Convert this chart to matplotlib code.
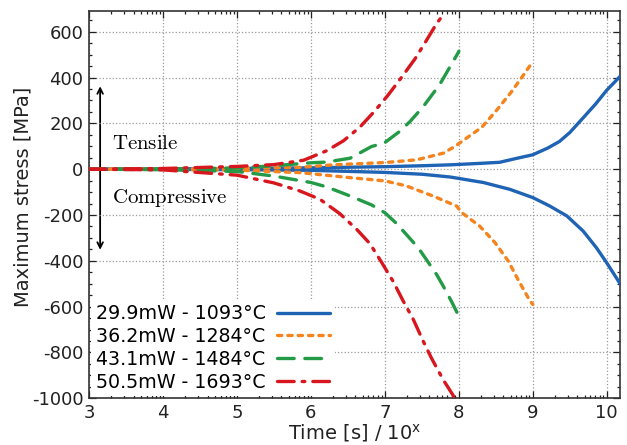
import numpy as np
import matplotlib
matplotlib.use("Agg")
import matplotlib.pyplot as plt
from matplotlib.ticker import FixedLocator, AutoMinorLocator

plt.rcParams['axes.unicode_minus'] = False

# Series: positive (tensile) and negative (compressive) branches
labels = ['29.9mW - 1093°C', '36.2mW - 1284°C', '43.1mW - 1484°C', '50.5mW - 1693°C']

blue_x_up = [3, 4, 5, 6, 7, 7.5, 7.88, 8.2, 8.55, 8.75, 9.0, 9.2, 9.36, 9.5, 9.68, 9.85, 10.0, 10.18]
blue_y_up = [0, 1, 3, 6, 11, 15, 19, 24, 30, 45, 63, 92, 121, 160, 224, 285, 345, 405]
blue_x_dn = [3, 4, 5, 6, 7, 7.5, 7.88, 8.33, 8.69, 9.0, 9.23, 9.46, 9.68, 9.86, 10.0, 10.18]
blue_y_dn = [0, -1, -2, -5, -14, -22, -34, -58, -88, -124, -161, -204, -270, -343, -409, -500]

orange_x_up = [3, 4, 5, 5.86, 6.3, 7.0, 7.43, 7.79, 7.95, 8.1, 8.31, 8.51, 8.70, 8.88, 9.0]
orange_y_up = [0, 1, 3, 8, 19, 29, 41, 70, 100, 135, 183, 257, 333, 414, 470]
orange_x_dn = [3, 4, 5, 5.86, 6.53, 7.0, 7.29, 7.65, 7.97, 8.04, 8.28, 8.49, 8.67, 8.80, 8.96, 9.0]
orange_y_dn = [0, -1, -4, -15, -37, -51, -73, -117, -161, -190, -248, -321, -402, -482, -574, -590]

green_x_up = [3, 4, 5, 5.5, 6.0, 6.21, 6.53, 6.82, 6.99, 7.20, 7.34, 7.52, 7.74, 7.99, 8.0]
green_y_up = [0, 1, 5, 15, 28, 31, 48, 99, 114, 165, 208, 274, 369, 508, 515]
green_x_dn = [3, 4, 5, 5.5, 6.0, 6.21, 6.53, 6.82, 7.0, 7.16, 7.29, 7.45, 7.56, 7.70, 7.79, 7.90, 7.99, 8.0]
green_y_dn = [0, -2, -10, -30, -58, -77, -117, -156, -190, -238, -285, -343, -394, -460, -511, -577, -635, -640]

red_x_up = [3, 4, 5, 5.5, 5.90, 6.21, 6.44, 6.66, 6.86, 7.04, 7.23, 7.41, 7.55, 7.70, 7.76]
red_y_up = [0, 3, 12, 20, 39, 80, 124, 183, 253, 322, 403, 483, 556, 636, 662]
red_x_dn = [3, 4, 4.3, 5, 5.5, 5.85, 6.12, 6.39, 6.62, 6.80, 6.96, 7.11, 7.25, 7.38, 7.52, 7.63, 7.79, 7.92, 7.96]
red_y_dn = [0, -3, -10, -26, -60, -95, -131, -194, -263, -326, -409, -489, -577, -653, -752, -825, -920, -986, -1010]

colors = ['#1f63b5', '#f5841f', '#239a46', '#d8161d']
styles = ['-', (0, (1.3, 1.8)), (0, (5, 3.2)), (0, (5, 2.4, 0.8, 2.4))]

branches = [
    (blue_x_up, blue_y_up, blue_x_dn, blue_y_dn),
    (orange_x_up, orange_y_up, orange_x_dn, orange_y_dn),
    (green_x_up, green_y_up, green_x_dn, green_y_dn),
    (red_x_up, red_y_up, red_x_dn, red_y_dn),
]

fig = plt.figure(figsize=(6.27, 4.45), dpi=100)
ax = fig.add_axes([0.142, 0.105, 0.847, 0.870])

# tensile / compressive arrow
ax.annotate('', xy=(3.15, 362), xytext=(3.15, -352),
            arrowprops=dict(arrowstyle='<->', lw=1.3, color='black',
                            shrinkA=0, shrinkB=0), zorder=1)
ax.text(3.31, 114, r'$\mathrm{Tensile}$', math_fontfamily='cm', fontsize=15,
        va='center', ha='left')
ax.text(3.31, -127, r'$\mathrm{Compressive}$', math_fontfamily='cm', fontsize=15,
        va='center', ha='left')

lines = []
for (xu, yu, xd, yd), c, ls, lab in zip(branches, colors, styles, labels):
    l, = ax.plot(xu, yu, color=c, linestyle=ls, lw=2.4, label=lab, zorder=3,
                 solid_capstyle='round', dash_capstyle='round')
    ax.plot(xd, yd, color=c, linestyle=ls, lw=2.4, zorder=3,
            solid_capstyle='round', dash_capstyle='round')
    lines.append(l)

ax.set_xlim(3, 10.18)
ax.set_ylim(-1000, 690)
ax.set_xticks(range(3, 11))
ax.set_yticks(range(-1000, 601, 200))
minor_x = [d + np.log10(k) for d in range(3, 11) for k in range(2, 10)]
minor_x = [m for m in minor_x if m < 10.18]
ax.xaxis.set_minor_locator(FixedLocator(minor_x))
ax.yaxis.set_minor_locator(AutoMinorLocator(4))
ax.tick_params(which='both', direction='in', top=True, right=True,
               labelsize=13, colors='#222222', width=0.9)
ax.tick_params(which='major', length=5, pad=4)
ax.tick_params(which='minor', length=2.5)
ax.grid(True, which='major', linestyle=':', color='#9a9a9a', lw=0.9)
for s in ax.spines.values():
    s.set_linewidth(1.2)
    s.set_color('#333333')

ax.set_xlabel(r'Time [s] / 10$^{\mathrm{x}}$', fontsize=14, color='#222222', labelpad=0)
ax.set_ylabel('Maximum stress [MPa]', fontsize=14, color='#222222')
ax.yaxis.set_label_coords(-0.106, 0.52)

leg = ax.legend(handles=lines, loc='lower left', bbox_to_anchor=(0.0, 0.0),
                fontsize=13.7, markerfirst=False, handlelength=2.8,
                handletextpad=0.6, labelspacing=0.2, borderpad=0.25,
                borderaxespad=0.1, frameon=True, fancybox=False,
                framealpha=1, facecolor='white', edgecolor='none')
leg.set_zorder(5)

fig.savefig('out.png', dpi=100)
